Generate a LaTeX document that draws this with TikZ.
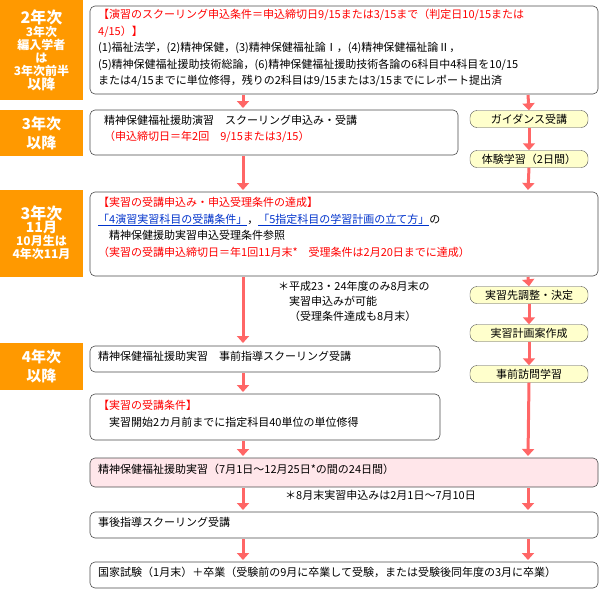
\documentclass[tikz,border=0pt]{standalone}
\usepackage{fontspec}
\setmainfont{Noto Sans CJK JP}
\usetikzlibrary{arrows.meta}
\definecolor{org}{HTML}{FF9900}
\definecolor{arr}{HTML}{FF6666}
\definecolor{pill}{HTML}{FFFFCC}
\definecolor{pinkf}{HTML}{FFE6EA}
\definecolor{lnk}{HTML}{0033CC}
\begin{document}
\begin{tikzpicture}[x=1pt,y=-1pt,
 yr/.style={fill=org,draw=none,text=white,font=\fontsize{12}{13}\selectfont\bfseries,align=center,inner sep=0},
 bx/.style={draw=black!70,rounded corners=5pt,fill=white,line width=0.6pt},
 pl/.style={draw=black!70,fill=pill,rounded corners=7pt,font=\fontsize{11}{12}\selectfont,minimum width=118pt,minimum height=17pt,inner sep=0},
 tx/.style={anchor=north west,align=left,font=\fontsize{11}{16.5}\selectfont,inner sep=0},
 ar/.style={draw=arr,line width=3pt,-{Triangle[length=7pt,width=12pt]}}]
\useasboundingbox (0,0) rectangle (600,590);
% year boxes
\fill[org] (0,0) rectangle (83,100);
\node[yr] (y1) at (41.5,50) {{\fontsize{16}{17}\selectfont 2年次}\\3年次\\編入学者\\は\\3年次前半\\{\fontsize{14}{15}\selectfont 以降}};
\fill[org] (0,110) rectangle (83,156);
\node[yr,font=\fontsize{15}{19}\selectfont\bfseries] (y2) at (41.5,133) {3年次\\以降};
\fill[org] (0,190) rectangle (83,277);
\node[yr] (y3) at (41.5,233) {{\fontsize{16}{18}\selectfont 3年次}\\{\fontsize{14}{15}\selectfont 11月}\\10月生は\\4年次11月};
\fill[org] (0,343) rectangle (83,390);
\node[yr,font=\fontsize{15}{19}\selectfont\bfseries] (y4) at (41.5,366) {4年次\\以降};
% main boxes
\draw[bx] (90,6) rectangle (598,94);
\node[tx] (t1) at (98,9) {\textcolor{red}{【演習のスクーリング申込条件＝申込締切日9/15または3/15まで（判定日10/15または}\\\textcolor{red}{4/15）】}\\(1)福祉法学，(2)精神保健，(3)精神保健福祉論Ⅰ，(4)精神保健福祉論Ⅱ，\\(5)精神保健福祉援助技術総論，(6)精神保健福祉援助技術各論の6科目中4科目を10/15\\または4/15までに単位修得，残りの2科目は9/15または3/15までにレポート提出済};
\draw[bx] (90,110) rectangle (458,155);
\node[tx] (t2) at (104,115) {精神保健福祉援助演習\quad スクーリング申込み・受講\\\textcolor{red}{（申込締切日＝年2回\quad 9/15または3/15）}};
\node[pl] (g1) at (529,119) {ガイダンス受講};
\node[pl] (g2) at (529,159) {体験学習（2日間）};
\draw[bx] (90,192) rectangle (598,276);
\node[tx] (t3) at (98,197) {\textcolor{red}{【実習の受講申込み・申込受理条件の達成】}\\\textcolor{lnk}{\underline{「4演習実習科目の受講条件」}}，\textcolor{lnk}{\underline{「5指定科目の学習計画の立て方」}}の\\\quad 精神保健援助実習申込受理条件参照\\\textcolor{red}{（実習の受講申込締切日＝年1回11月末*\quad 受理条件は2月20日までに達成）}};
\node[tx,font=\fontsize{11}{15}\selectfont] (n1) at (278,281) {＊平成23・24年度のみ8月末の\\\quad 実習申込みが可能\\\quad（受理条件達成も8月末）};
\node[pl] (g3) at (529,295) {実習先調整・決定};
\node[pl] (g4) at (529,333) {実習計画案作成};
\node[pl] (g5) at (529,374) {事前訪問学習};
\draw[bx] (90,346) rectangle (440,372);
\node[tx] (t4) at (98,351) {精神保健福祉援助実習\quad 事前指導スクーリング受講};
\draw[bx] (90,394) rectangle (440,440);
\node[tx] (t5) at (98,400) {\textcolor{red}{【実習の受講条件】}\\\quad 実習開始2カ月前までに指定科目40単位の単位修得};
\draw[bx,fill=pinkf] (90,458) rectangle (598,487);
\node[tx] (t6) at (98,464) {精神保健福祉援助実習（7月1日〜12月25日*の間の24日間）};
\node[tx] (n2) at (285,490) {＊8月末実習申込みは2月1日〜7月10日};
\draw[bx] (90,512) rectangle (598,538);
\node[tx] (t7) at (98,517) {事後指導スクーリング受講};
\draw[bx] (90,562) rectangle (598,588);
\node[tx] (t8) at (98,567) {国家試験（1月末）＋卒業（受験前の9月に卒業して受験，または受験後同年度の3月に卒業）};
% arrows
\draw[ar] (243,95) -- (243,108);
\draw[ar] (243,156) -- (243,190);
\draw[ar] (243,277) -- (243,343);
\draw[ar] (243,373) -- (243,392);
\draw[ar] (243,441) -- (243,456);
\draw[ar] (243,488) -- (243,510);
\draw[ar] (243,539) -- (243,560);
\draw[ar] (528,95) -- (g1.north);
\draw[ar] (g1.south) -- (g2.north);
\draw[ar] (g2.south) -- (528,190);
\draw[ar] (528,277) -- (g3.north);
\draw[ar] (g3.south) -- (g4.north);
\draw[ar] (g4.south) -- (g5.north);
\draw[ar] (g5.south) -- (528,456);
\draw[ar] (528,488) -- (528,510);
\draw[ar] (528,539) -- (528,560);
\end{tikzpicture}
\end{document}
